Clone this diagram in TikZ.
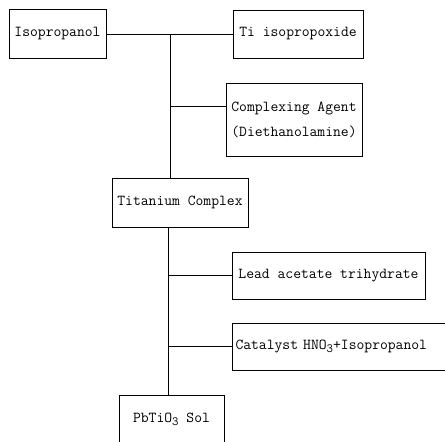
\documentclass[tikz,border=0pt]{standalone}
\usepackage{fontspec}
\usetikzlibrary{positioning}
\newcommand{\lowsub}[1]{\raisebox{-3pt}{\fontsize{12.5}{12.5}\selectfont #1}}
\tikzset{
  box/.style={draw, line width=1pt, inner sep=3pt,
    font=\ttfamily\fontsize{15.2}{25}\selectfont},
  wire/.style={line width=1pt}
}

\begin{document}
\begin{tikzpicture}[x=1pt, y=-1pt]
			\useasboundingbox (0,0) rectangle (445,442);
			% Boxes
			\node[box, minimum width=97, minimum height=49] (iso) at (57.5,34) {Isopropanol};
			\node[box, minimum width=130, minimum height=48] (tiiso) at (298,34) {Ti isopropoxide};
			\node[box, minimum width=136, minimum height=73, align=center] (agent) at (294,119.5) {Complexing Agent\\(Diethanolamine)};
			\node[box, minimum width=136, minimum height=49] (ticomplex) at (180,202.5) {Titanium Complex};
			\node[box, minimum width=193, minimum height=47] (lead) at (328.5,275.5) {Lead acetate trihydrate};
			\node[box, minimum height=47, text width=212pt, align=left, anchor=west] (catalyst) at (232,346.5) {Catalyst HNO\lowsub{3}+Isopropanol};
			\node[box, minimum width=105, minimum height=49] (pbsol) at (171.5,419.5) {PbTiO\lowsub{3} Sol};
			
			% Trunks
			\coordinate (up) at (170,0);
			\coordinate (low) at (168,0);
			\coordinate (agentin) at ([yshift=13.5pt]agent.west);
			
			% Lines
			\draw[wire] (iso.east) -- (tiiso.west);
			\draw[wire] (up |- iso.east) -- (up |- ticomplex.north);
			\draw[wire] (up |- agentin) -- (agentin);
			\draw[wire] (low |- ticomplex.south) -- (low |- pbsol.north);
			\draw[wire] (low |- lead.west) -- (lead.west);
			\draw[wire] (low |- catalyst.west) -- (catalyst.west);
			
\end{tikzpicture}
\end{document}
